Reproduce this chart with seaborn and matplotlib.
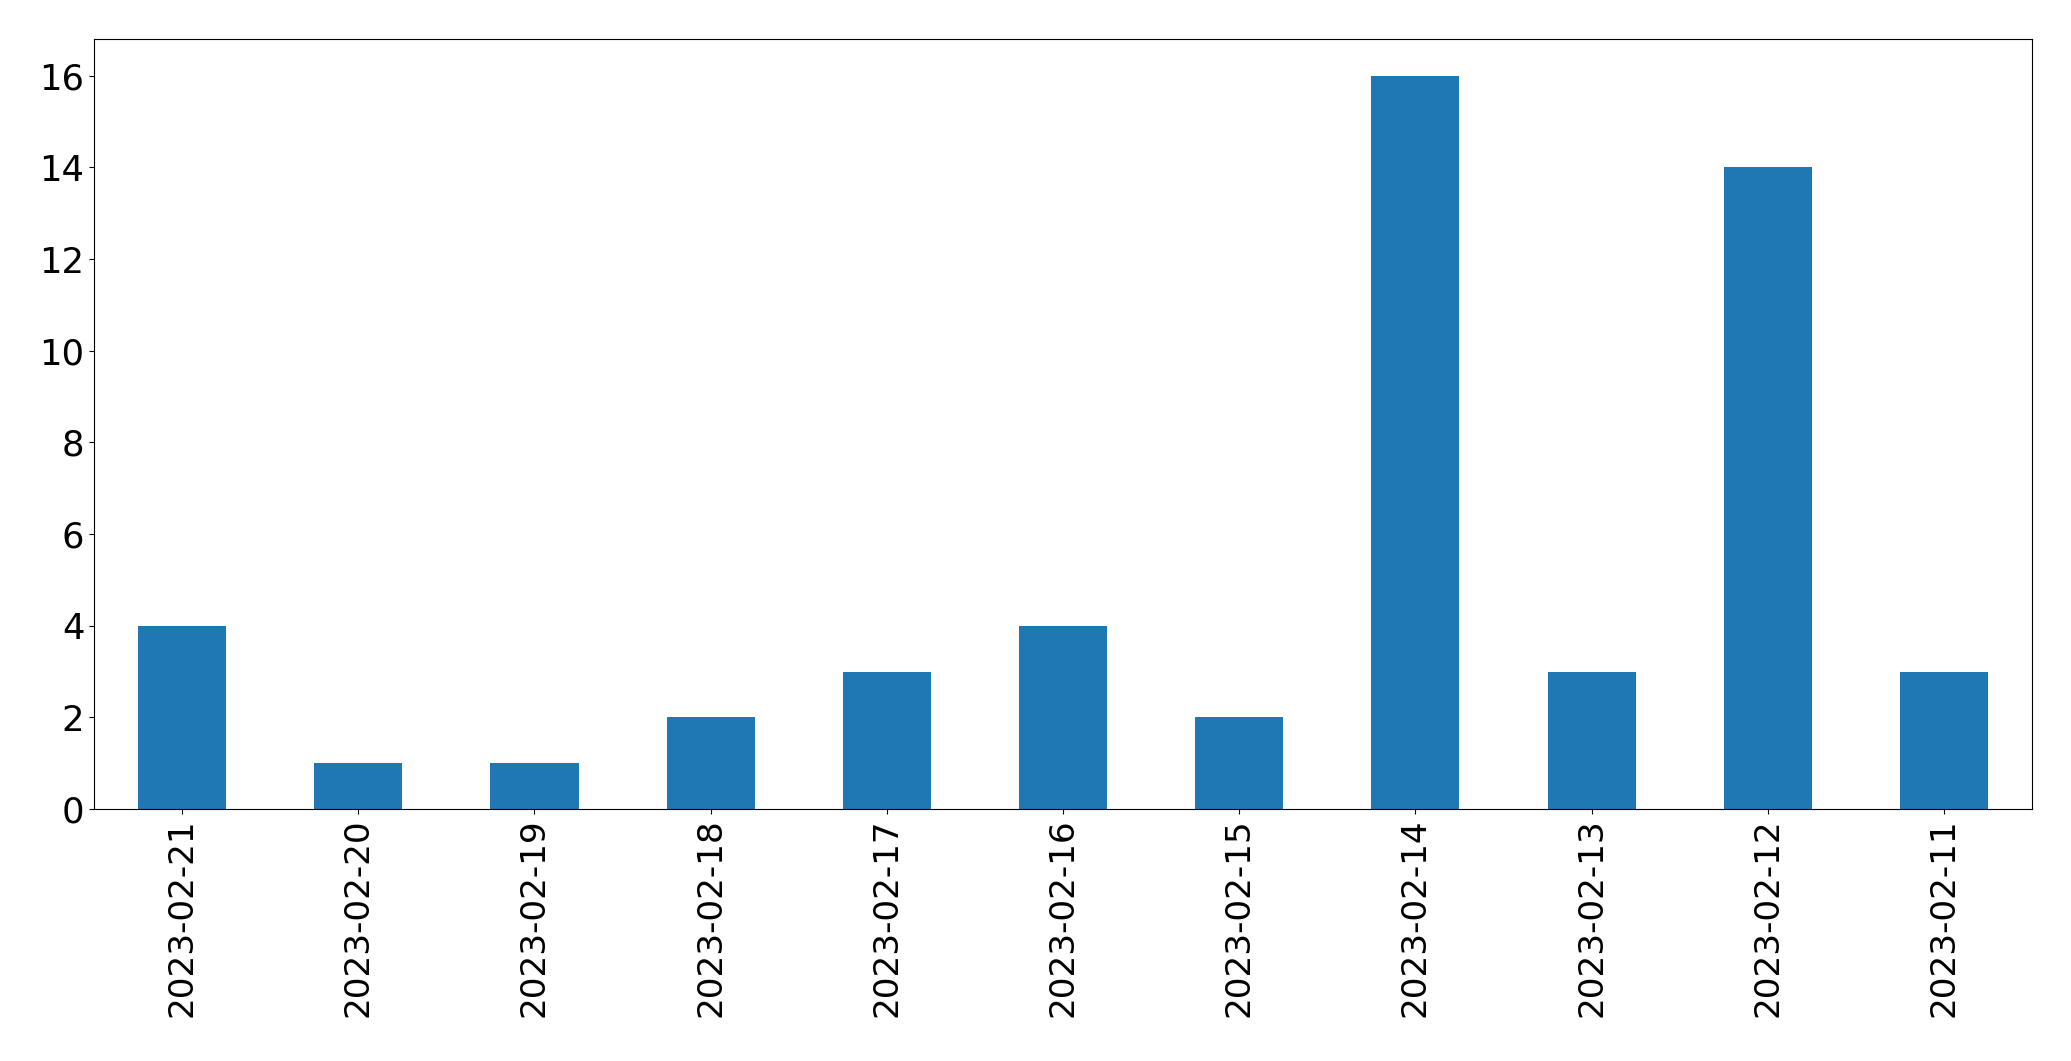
import matplotlib
matplotlib.use("Agg")
import matplotlib.pyplot as plt
import seaborn as sns
import pandas as pd

# Daily counts, newest first (as in the source chart)
dates = ['2023-02-21', '2023-02-20', '2023-02-19', '2023-02-18', '2023-02-17',
         '2023-02-16', '2023-02-15', '2023-02-14', '2023-02-13', '2023-02-12',
         '2023-02-11']
counts = [4, 1, 1, 2, 3, 4, 2, 16, 3, 14, 3]

df = pd.DataFrame({'date': dates, 'count': counts})

fig, ax = plt.subplots(figsize=(20.71, 10.61), dpi=100)
sns.barplot(data=df, x='date', y='count', order=dates, color='#1f77b4',
            saturation=1, width=0.5, ax=ax)

ax.set_xlim(-0.5, len(dates) - 0.5)
ax.set_ylim(0, max(counts) * 1.05)
ax.set_xlabel('')
ax.set_ylabel('')
ax.tick_params(axis='x', labelsize=24.7)
ax.tick_params(axis='y', labelsize=25.5)
plt.setp(ax.get_xticklabels(), rotation=90)

fig.subplots_adjust(left=0.0454, right=0.9812, top=0.9632, bottom=0.2375)
fig.savefig('out.png', dpi=100)
